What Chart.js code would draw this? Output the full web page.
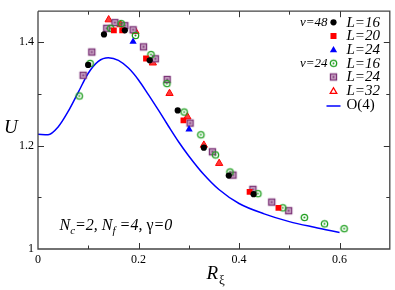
<!DOCTYPE html>
<html><head><meta charset="utf-8">
<script src="https://cdn.jsdelivr.net/npm/chart.js@4.4.0/dist/chart.umd.min.js"></script>
<style>html,body{margin:0;padding:0;background:#fff;}#wrap{width:395px;height:290px;position:relative;}</style>
</head><body><div id="wrap"><canvas id="c" width="395" height="290"></canvas></div>
<script>
// ---- data ----
const xTickLabels = ['0', '0.2', '0.4', '0.6'];
const yTickLabels = ['1', '1.2', '1.4'];
const xMinorTicks = [0.1, 0.3, 0.5];
const yMinorTicks = [1.1, 1.3];

// nu=48, L=16 (black filled circles)
const v48L16_x = [0.0997, 0.1313, 0.1728, 0.2222, 0.278, 0.330, 0.3796, 0.429];
const v48L16_y = [1.356, 1.415, 1.423, 1.365, 1.268, 1.196, 1.142, 1.106];
// nu=48, L=20 (red filled squares)
const v48L20_x = [0.151, 0.1675, 0.2149, 0.2894, 0.421, 0.4784];
const v48L20_y = [1.423, 1.423, 1.3685, 1.249, 1.1106, 1.0796];
// nu=48, L=24 (blue filled triangles)
const v48L24_x = [0.1892, 0.3006];
const v48L24_y = [1.401, 1.2315];
// nu=24, L=16 (green open circles)
const v24L16_x = [0.082, 0.1037, 0.1446, 0.1655, 0.194, 0.2248, 0.2564, 0.2907, 0.324, 0.353, 0.382, 0.4375, 0.487, 0.530, 0.570, 0.609];
const v24L16_y = [1.296, 1.359, 1.427, 1.436, 1.413, 1.376, 1.320, 1.265, 1.221, 1.182, 1.149, 1.107, 1.0796, 1.061, 1.0487, 1.0394];
// nu=24, L=24 (purple open squares)
const v24L24_x = [0.0899, 0.107, 0.1367, 0.153, 0.1728, 0.1892, 0.210, 0.2335, 0.257, 0.3026, 0.347, 0.388, 0.4276, 0.465, 0.4987];
const v24L24_y = [1.336, 1.381, 1.427, 1.438, 1.432, 1.424, 1.391, 1.368, 1.328, 1.2435, 1.188, 1.143, 1.1154, 1.0907, 1.074];
// nu=24, L=32 (red open triangles)
const v24L32_x = [0.1406, 0.1643, 0.194, 0.2285, 0.2617, 0.2973, 0.330, 0.3605];
const v24L32_y = [1.4435, 1.434, 1.421, 1.360, 1.301, 1.2556, 1.201, 1.1657];
// O(4) curve
const o4_x = [0, 0.02, 0.04, 0.06, 0.08, 0.10, 0.12, 0.14, 0.16, 0.18, 0.20, 0.22, 0.24, 0.26, 0.28, 0.30, 0.33, 0.36, 0.40, 0.45, 0.50, 0.55, 0.60];
const o4_y = [1.222, 1.221, 1.236, 1.266, 1.303, 1.340, 1.363, 1.370, 1.365, 1.350, 1.327, 1.298, 1.268, 1.237, 1.207, 1.180, 1.144, 1.115, 1.088, 1.068, 1.053, 1.042, 1.032];

const legendRows = ['L=16', 'L=20', 'L=24', 'L=16', 'L=24', 'L=32', 'O(4)'];
const groupLabels = ['\u03bd=48', '\u03bd=24'];

// ---- styles ----
const FONT = '"Liberation Serif", "Times New Roman", serif';
const GREEN = '#1e9e1e', PURPLE = '#7d3578', RED = '#ff0000', BLUE = '#0000ff';

function pts(xs, ys) { return xs.map((x, i) => ({ x: x, y: ys[i] })); }

function ringDot(color) {
  const c = document.createElement('canvas'); c.width = c.height = 11;
  const g = c.getContext('2d');
  g.strokeStyle = color; g.lineWidth = 1.3;
  g.beginPath(); g.arc(5.5, 5.5, 3.2, 0, Math.PI * 2); g.stroke();
  g.fillStyle = color; g.beginPath(); g.arc(5.5, 5.5, 1, 0, Math.PI * 2); g.fill();
  return c;
}
function squareDot(color) {
  const c = document.createElement('canvas'); c.width = c.height = 11;
  const g = c.getContext('2d');
  g.fillStyle = '#d2b2cd'; g.fillRect(2.5, 2.5, 6, 6);
  g.strokeStyle = color; g.lineWidth = 1.4; g.strokeRect(2.5, 2.5, 6, 6);
  g.fillStyle = color; g.fillRect(4.5, 4.5, 2, 2);
  return c;
}
const ringImg = ringDot(GREEN), sqImg = squareDot(PURPLE);

function drawTri(ctx, x, y, r, fill, stroke) {
  ctx.beginPath();
  ctx.moveTo(x, y - r);
  ctx.lineTo(x + r * 0.866, y + r * 0.5);
  ctx.lineTo(x - r * 0.866, y + r * 0.5);
  ctx.closePath();
  if (fill) { ctx.fillStyle = fill; ctx.fill(); }
  if (stroke) { ctx.strokeStyle = stroke; ctx.lineWidth = 1.3; ctx.stroke(); }
}

const decor = {
  id: 'decor',
  afterDraw(chart) {
    const ctx = chart.ctx, xs = chart.scales.x, ys = chart.scales.y, ca = chart.chartArea;
    ctx.save();
    // frame
    ctx.lineWidth = 1.3;
    ctx.strokeStyle = '#444';
    ctx.beginPath();
    ctx.moveTo(ca.left, ca.top); ctx.lineTo(ca.left, ca.bottom); ctx.lineTo(ca.right, ca.bottom);
    ctx.lineTo(ca.right, ca.top); ctx.lineTo(ca.left, ca.top);
    ctx.stroke();
    // ticks (inward, mirrored)
    ctx.lineWidth = 1;
    ctx.strokeStyle = '#333';
    const xt = (v, len) => { const p = Math.round(xs.getPixelForValue(v)) + 0.5;
      ctx.beginPath(); ctx.moveTo(p, ca.bottom); ctx.lineTo(p, ca.bottom - len);
      ctx.moveTo(p, ca.top); ctx.lineTo(p, ca.top + len); ctx.stroke(); };
    const yt = (v, len) => { const p = Math.round(ys.getPixelForValue(v)) + 0.5;
      ctx.beginPath(); ctx.moveTo(ca.left, p); ctx.lineTo(ca.left + len, p);
      ctx.moveTo(ca.right, p); ctx.lineTo(ca.right - len, p); ctx.stroke(); };
    xTickLabels.forEach(l => { const v = parseFloat(l); if (v > 0) xt(v, 6); });
    xMinorTicks.forEach(v => xt(v, 3.5));
    yTickLabels.forEach(l => { const v = parseFloat(l); if (v > 1) yt(v, 6); });
    yMinorTicks.forEach(v => yt(v, 3.5));

    ctx.fillStyle = '#000';
    ctx.textBaseline = 'alphabetic';
    ctx.textAlign = 'left';
    // axis titles
    ctx.font = 'italic 19px ' + FONT;
    ctx.fillText('U', 4, 132.5);
    ctx.fillText('R', 206.5, 278.5);
    let w = ctx.measureText('R').width;
    ctx.font = '13px ' + FONT;
    ctx.fillText('\u03be', 206.5 + w + 1, 283.5);

    // annotation  N_c=2, N_f =4, γ=0
    let x = 59.5; const by = 230;
    const big = 'italic 16px ' + FONT, sub = 'italic 11px ' + FONT;
    const seg = (t, f, dy) => { ctx.font = f; ctx.fillText(t, x, by + dy); x += ctx.measureText(t).width; };
    seg('N', big, 0); seg('c', sub, 4); seg('=2, ', big, 0);
    seg('N', big, 0); seg('f', sub, 4); seg(' =4, ', big, 0);
    seg('\u03b3', '16px ' + FONT, 0); seg('=0', big, 0);

    // legend
    const mx = 333.5, tx = 346.5;
    const rows = [22.3, 36, 49.6, 63.3, 77, 90.7, 104.8];
    ctx.textBaseline = 'middle';
    ctx.font = 'italic 13px ' + FONT; ctx.textAlign = 'right';
    ctx.fillText(groupLabels[0], 327.5, rows[0]);
    ctx.fillText(groupLabels[1], 327.5, rows[3]);
    ctx.textAlign = 'left';
    legendRows.forEach((t, i) => {
      ctx.font = (i === 6 ? '' : 'italic ') + '15px ' + FONT;
      ctx.fillText(t, tx, rows[i] + 0.5);
    });
    // legend markers
    ctx.fillStyle = '#000'; ctx.beginPath(); ctx.arc(mx, rows[0], 3.1, 0, Math.PI * 2); ctx.fill();
    ctx.fillStyle = RED; ctx.fillRect(mx - 3, rows[1] - 3, 6, 6);
    drawTri(ctx, mx, rows[2] + 0.5, 4.2, BLUE, null);
    ctx.drawImage(ringImg, mx - 5.5, rows[3] - 5.5);
    ctx.drawImage(sqImg, mx - 5.5, rows[4] - 5.5);
    drawTri(ctx, mx, rows[5] + 0.8, 3.8, '#fff', RED);
    ctx.strokeStyle = BLUE; ctx.lineWidth = 1.5;
    ctx.beginPath(); ctx.moveTo(326.5, 106); ctx.lineTo(340.5, 106); ctx.stroke();
    ctx.restore();
  }
};

function fmtTick(labels) {
  return function (v) {
    const hit = labels.find(l => Math.abs(parseFloat(l) - v) < 1e-6);
    return hit === undefined ? '' : hit;
  };
}

new Chart(document.getElementById('c'), {
  type: 'scatter',
  data: {
    datasets: [
      { label: 'v48 L16', data: pts(v48L16_x, v48L16_y), pointStyle: 'circle', pointRadius: 3.1,
        backgroundColor: '#000', borderColor: '#000', borderWidth: 0, order: 1 },
      { label: 'v48 L20', data: pts(v48L20_x, v48L20_y), pointStyle: 'rect', pointRadius: 4.1,
        backgroundColor: RED, borderColor: RED, borderWidth: 0, order: 2 },
      { label: 'v48 L24', data: pts(v48L24_x, v48L24_y), pointStyle: 'triangle', pointRadius: 4.2,
        backgroundColor: BLUE, borderColor: BLUE, borderWidth: 0, order: 3 },
      { label: 'v24 L16', data: pts(v24L16_x, v24L16_y), pointStyle: ringImg, pointRadius: 4,
        order: 4 },
      { label: 'v24 L24', data: pts(v24L24_x, v24L24_y), pointStyle: sqImg, pointRadius: 4,
        order: 5 },
      { label: 'v24 L32', data: pts(v24L32_x, v24L32_y), pointStyle: 'triangle', pointRadius: 4.2,
        backgroundColor: '#ff3a3a', borderColor: RED, borderWidth: 1, order: 6 },
      { label: 'O(4)', type: 'line', data: pts(o4_x, o4_y), showLine: true, pointRadius: 0,
        borderColor: BLUE, borderWidth: 1.5, fill: false, cubicInterpolationMode: 'monotone', order: 7 }
    ]
  },
  options: {
    responsive: false, animation: false, devicePixelRatio: 1,
    layout: { padding: { top: 1, right: 2, left: 0, bottom: 0 } },
    plugins: { legend: { display: false }, tooltip: { enabled: false } },
    scales: {
      x: {
        type: 'linear', min: 0, max: 0.7,
        afterBuildTicks: s => { s.ticks = xTickLabels.map(l => ({ value: parseFloat(l) })); },
        afterFit: s => { s.height = 41; },
        grid: { display: false, drawTicks: false }, border: { display: false },
        ticks: { padding: 4, color: '#000', font: { family: FONT, size: 12 }, maxRotation: 0,
          callback: fmtTick(xTickLabels) }
      },
      y: {
        type: 'linear', min: 1, max: 1.46,
        afterBuildTicks: s => { s.ticks = yTickLabels.map(l => ({ value: parseFloat(l) })); },
        afterFit: s => { s.width = 38; },
        grid: { display: false, drawTicks: false }, border: { display: false },
        ticks: { padding: 4, color: '#000', font: { family: FONT, size: 12 },
          callback: fmtTick(yTickLabels) }
      }
    }
  },
  plugins: [decor]
});
</script>
</body></html>
